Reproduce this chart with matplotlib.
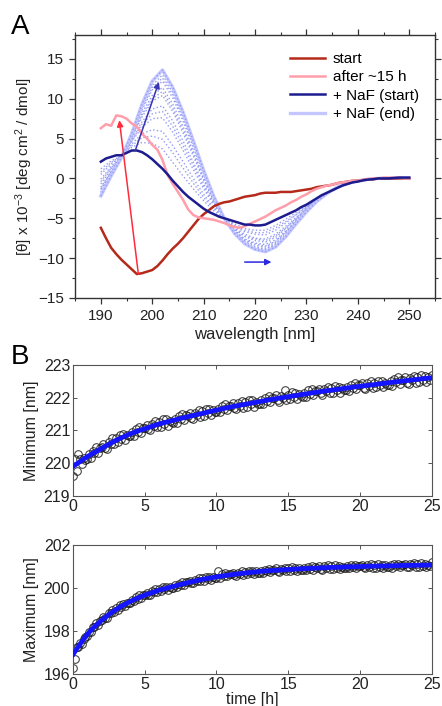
"""CD spectra of the NaF-induced transition (A) and kinetics of band positions (B)."""

import numpy as np
import matplotlib

matplotlib.use("Agg")
import matplotlib.pyplot as plt
from matplotlib.ticker import MultipleLocator

plt.rcParams.update(
    {
        "font.family": "Liberation Sans",
        "mathtext.fontset": "custom",
        "mathtext.rm": "Liberation Sans",
        "mathtext.it": "Liberation Sans:italic",
    }
)

COLORS = {
    "start": "#b52a1b",
    "after": "#ff9eab",
    "naf_start": "#1c1c8f",
    "naf_end": "#c3c6ff",
    "scans": "#949cf2",
    "red_arrow": "#ff2a3a",
    "blue_arrow": "#3a35b0",
    "shift_arrow": "#2a2ae0",
    "fit": "#1414ff",
}

# ---- panel A: spectra, 1 nm steps 190..250 ----
WL = np.arange(190, 251)

START = [
    -6.2, -7.5, -8.7, -9.5, -10.2, -10.8, -11.4, -12.0, -11.9, -11.7,
    -11.5, -11.0, -10.3, -9.5, -8.8, -8.2, -7.5, -6.7, -5.9, -5.1,
    -4.5, -4.0, -3.5, -3.2, -3.0, -2.9, -2.7, -2.5, -2.3, -2.2,
    -2.1, -1.9, -1.8, -1.8, -1.8, -1.7, -1.7, -1.7, -1.6, -1.5,
    -1.4, -1.3, -1.1, -1.0, -0.9, -0.8, -0.6, -0.5, -0.4, -0.3,
    -0.3, -0.2, -0.1, -0.1, 0.0, 0.0, 0.0, 0.0, 0.0, 0.0, 0.0,
]

AFTER_15H = [
    6.3, 6.8, 6.6, 7.9, 7.8, 7.5, 6.9, 6.5, 5.6, 5.0,
    4.2, 3.6, 2.3, 0.4, -0.7, -1.7, -2.7, -3.9, -4.6, -4.9,
    -5.0, -5.1, -5.2, -5.4, -5.6, -5.9, -6.1, -6.2, -6.0, -5.7,
    -5.4, -5.1, -4.8, -4.4, -4.0, -3.7, -3.4, -3.0, -2.7, -2.3,
    -2.0, -1.6, -1.3, -1.1, -0.9, -0.8, -0.6, -0.5, -0.4, -0.3,
    -0.3, -0.2, -0.1, 0.0, 0.0, 0.1, 0.1, 0.1, 0.1, 0.0, 0.0,
]

NAF_START = [
    2.1, 2.5, 2.7, 2.9, 2.9, 3.2, 3.5, 3.5, 3.3, 2.9,
    2.4, 1.8, 1.2, 0.5, -0.3, -1.0, -1.7, -2.3, -2.8, -3.3,
    -3.8, -4.2, -4.5, -4.8, -5.0, -5.2, -5.4, -5.6, -5.8, -5.8,
    -5.9, -5.9, -5.8, -5.5, -5.2, -4.9, -4.6, -4.3, -4.0, -3.6,
    -3.3, -2.9, -2.5, -2.1, -1.8, -1.5, -1.2, -0.9, -0.7, -0.5,
    -0.4, -0.25, -0.15, -0.1, 0.0, 0.0, 0.0, 0.05, 0.1, 0.1, 0.1,
]

# intermediate scans after NaF addition, 2 nm steps 190..250
WL_SCAN = np.arange(190, 251, 2)

NAF_SCANS = [
    [1.2, 2.2, 2.8, 3.9, 4.5, 4.4, 3.7, 2.0, 0.3, -1.3, -2.8, -4.1, -5.0, -5.7, -6.3, -6.5,
     -6.5, -5.9, -5.1, -4.3, -3.5, -2.6, -1.8, -1.2, -0.7, -0.4, -0.1, 0.0, 0.0, 0.1, 0.1],
    [0.8, 2.0, 2.8, 4.1, 5.1, 5.3, 4.9, 3.2, 1.3, -0.6, -2.4, -3.8, -5.0, -5.9, -6.5, -6.8,
     -6.8, -6.2, -5.4, -4.5, -3.6, -2.6, -1.8, -1.2, -0.7, -0.4, -0.1, 0.0, 0.0, 0.1, 0.1],
    [0.5, 1.8, 2.8, 4.3, 5.6, 6.1, 5.9, 4.1, 2.1, 0.0, -2.0, -3.7, -5.0, -6.0, -6.7, -7.0,
     -7.1, -6.5, -5.6, -4.6, -3.6, -2.7, -1.8, -1.2, -0.7, -0.4, -0.1, 0.0, 0.0, 0.1, 0.1],
    [-0.1, 1.5, 2.7, 4.6, 6.4, 7.5, 7.6, 5.8, 3.5, 1.1, -1.3, -3.4, -5.0, -6.2, -7.0, -7.5,
     -7.6, -7.0, -6.0, -4.9, -3.8, -2.7, -1.9, -1.1, -0.6, -0.3, -0.1, 0.0, 0.0, 0.1, 0.1],
    [-0.4, 1.3, 2.7, 4.7, 6.8, 8.1, 8.4, 6.5, 4.1, 1.6, -1.0, -3.2, -5.0, -6.3, -7.2, -7.6,
     -7.8, -7.2, -6.2, -5.0, -3.8, -2.7, -1.9, -1.1, -0.6, -0.3, -0.1, 0.0, 0.0, 0.1, 0.1],
    [-0.7, 1.2, 2.7, 4.8, 7.1, 8.7, 9.1, 7.2, 4.7, 2.0, -0.7, -3.1, -5.0, -6.4, -7.3, -7.8,
     -8.0, -7.4, -6.3, -5.1, -3.9, -2.8, -1.9, -1.1, -0.6, -0.3, -0.1, 0.0, 0.0, 0.1, 0.1],
    [-1.1, 0.9, 2.7, 5.1, 7.7, 9.7, 10.4, 8.4, 5.7, 2.8, -0.2, -2.9, -5.0, -6.5, -7.6, -8.1,
     -8.3, -7.7, -6.6, -5.3, -4.0, -2.8, -1.9, -1.1, -0.6, -0.3, -0.1, 0.0, 0.0, 0.1, 0.1],
    [-1.3, 0.8, 2.7, 5.1, 8.0, 10.0, 10.9, 8.8, 6.1, 3.1, -0.1, -2.8, -5.0, -6.6, -7.7, -8.2,
     -8.5, -7.9, -6.7, -5.3, -4.0, -2.8, -1.9, -1.1, -0.6, -0.3, -0.1, 0.0, 0.0, 0.1, 0.1],
    [-1.4, 0.7, 2.7, 5.2, 8.2, 10.4, 11.4, 9.3, 6.5, 3.4, 0.1, -2.7, -5.0, -6.6, -7.8, -8.4,
     -8.6, -8.0, -6.8, -5.4, -4.0, -2.8, -1.9, -1.1, -0.6, -0.3, -0.1, 0.0, 0.0, 0.1, 0.1],
    [-1.7, 0.6, 2.6, 5.4, 8.6, 11.1, 12.2, 10.1, 7.2, 3.9, 0.5, -2.5, -5.0, -6.7, -7.9, -8.6,
     -8.8, -8.2, -7.0, -5.5, -4.1, -2.9, -1.9, -1.1, -0.6, -0.3, -0.1, 0.0, 0.0, 0.1, 0.1],
    [-1.9, 0.5, 2.6, 5.4, 8.8, 11.4, 12.6, 10.5, 7.5, 4.1, 0.6, -2.5, -5.0, -6.8, -8.0, -8.7,
     -8.9, -8.3, -7.1, -5.6, -4.1, -2.9, -1.9, -1.1, -0.6, -0.3, -0.1, 0.0, 0.0, 0.1, 0.05],
    [-2.0, 0.4, 2.6, 5.5, 9.0, 11.7, 13.0, 10.8, 7.8, 4.3, 0.8, -2.4, -5.0, -6.8, -8.1, -8.8,
     -9.0, -8.4, -7.2, -5.6, -4.2, -2.9, -1.9, -1.1, -0.6, -0.3, -0.1, 0.0, 0.0, 0.05, 0.05],
]

NAF_END = [
    -2.2, 0.3, 2.6, 5.6, 9.3, 12.2, 13.6, 11.4, 8.3, 4.7, 1.0, -2.3, -5.0, -6.9, -8.2, -8.9,
    -9.2, -8.6, -7.3, -5.7, -4.2, -2.9, -1.9, -1.1, -0.6, -0.3, -0.1, 0.0, 0.0, 0.05, 0.05,
]

# ---- panel B: band positions vs time, 7.5 min steps ----
TIME_H = np.arange(0, 25.01, 0.125)

MIN_NM = [
    219.62, 220.12, 219.75, 220.28, 220.13, 219.97, 220.15, 220.11,
    220.13, 220.27, 220.16, 220.38, 220.31, 220.49, 220.31, 220.47,
    220.48, 220.58, 220.45, 220.43, 220.65, 220.60, 220.76, 220.58,
    220.76, 220.64, 220.86, 220.75, 220.88, 220.71, 220.87, 220.83,
    220.83, 220.96, 220.84, 221.05, 220.96, 221.12, 220.93, 221.08,
    221.08, 221.17, 221.03, 221.00, 221.20, 221.13, 221.28, 221.09,
    221.26, 221.12, 221.34, 221.21, 221.34, 221.15, 221.30, 221.25,
    221.24, 221.36, 221.24, 221.44, 221.35, 221.51, 221.31, 221.46,
    221.45, 221.53, 221.39, 221.35, 221.54, 221.47, 221.62, 221.42,
    221.58, 221.44, 221.66, 221.53, 221.65, 221.46, 221.62, 221.56,
    221.55, 221.67, 221.55, 221.75, 221.65, 221.81, 221.62, 221.76,
    221.75, 221.83, 221.68, 221.64, 221.83, 221.76, 221.90, 221.70,
    221.86, 221.72, 221.93, 221.80, 221.92, 221.73, 221.88, 221.82,
    221.81, 221.93, 221.80, 222.00, 221.90, 222.06, 221.86, 222.00,
    221.99, 222.07, 221.92, 221.88, 222.06, 221.99, 222.22, 221.93,
    222.09, 221.95, 222.16, 222.03, 222.14, 221.95, 222.10, 222.04,
    222.03, 222.15, 222.02, 222.22, 222.11, 222.27, 222.07, 222.21,
    222.20, 222.28, 222.13, 222.08, 222.27, 222.20, 222.34, 222.13,
    222.29, 222.15, 222.36, 222.22, 222.34, 222.15, 222.30, 222.23,
    222.22, 222.34, 222.21, 222.40, 222.30, 222.46, 222.26, 222.39,
    222.38, 222.46, 222.30, 222.26, 222.45, 222.37, 222.51, 222.30,
    222.46, 222.32, 222.52, 222.39, 222.51, 222.32, 222.46, 222.40,
    222.39, 222.51, 222.37, 222.57, 222.47, 222.62, 222.42, 222.55,
    222.54, 222.62, 222.46, 222.42, 222.61, 222.53, 222.67, 222.46,
    222.62, 222.48, 222.68, 222.55, 222.67, 222.47, 222.62, 222.55,
    222.70,
]

MAX_NM = [
    196.30, 196.68, 197.24, 197.26, 197.46, 197.41, 197.65, 197.70,
    197.79, 197.97, 197.95, 198.18, 198.18, 198.38, 198.29, 198.47,
    198.52, 198.65, 198.59, 198.61, 198.83, 198.82, 198.99, 198.87,
    199.05, 198.98, 199.19, 199.13, 199.26, 199.15, 199.31, 199.30,
    199.32, 199.45, 199.38, 199.56, 199.51, 199.67, 199.54, 199.68,
    199.69, 199.78, 199.68, 199.67, 199.85, 199.80, 199.94, 199.80,
    199.95, 199.85, 200.04, 199.95, 200.05, 199.91, 200.06, 200.02,
    200.02, 200.13, 200.04, 200.21, 200.15, 200.29, 200.15, 200.27,
    200.27, 200.35, 200.24, 200.22, 200.39, 200.33, 200.46, 200.31,
    200.45, 200.35, 200.52, 200.43, 200.52, 200.38, 200.51, 200.47,
    200.46, 200.78, 200.47, 200.63, 200.55, 200.68, 200.54, 200.65,
    200.64, 200.71, 200.59, 200.56, 200.72, 200.66, 200.78, 200.62,
    200.75, 200.64, 200.81, 200.71, 200.80, 200.64, 200.77, 200.72,
    200.71, 200.81, 200.70, 200.86, 200.78, 200.90, 200.75, 200.85,
    200.84, 200.91, 200.78, 200.75, 200.90, 200.84, 200.95, 200.79,
    200.91, 200.80, 200.96, 200.86, 200.94, 200.79, 200.91, 200.86,
    200.84, 200.93, 200.83, 200.98, 200.90, 201.02, 200.86, 200.97,
    200.95, 201.01, 200.89, 200.85, 201.01, 200.94, 201.05, 200.89,
    201.01, 200.89, 201.05, 200.95, 201.03, 200.87, 201.00, 200.94,
    200.92, 201.01, 200.91, 201.06, 200.97, 201.09, 200.94, 201.04,
    201.02, 201.08, 200.96, 200.92, 201.07, 201.00, 201.12, 200.95,
    201.07, 200.95, 201.11, 201.00, 201.08, 200.92, 201.05, 200.99,
    200.97, 201.06, 200.95, 201.10, 201.02, 201.14, 200.98, 201.09,
    201.07, 201.13, 201.00, 200.96, 201.11, 201.05, 201.16, 200.99,
    201.11, 200.99, 201.15, 201.04, 201.12, 200.96, 201.09, 201.03,
    201.20,
]

FIT_T = [0, 0.5, 1, 1.5, 2, 2.5, 3, 3.5, 4, 4.5, 5, 6, 7, 8, 9, 10,
         11, 12, 13, 14, 15, 16, 17, 18, 19, 20, 21, 22, 23, 24, 25]
FIT_MIN = [219.90, 220.05, 220.20, 220.33, 220.45, 220.58, 220.70, 220.80, 220.90, 220.98,
           221.05, 221.20, 221.31, 221.42, 221.52, 221.62, 221.72, 221.80, 221.88, 221.96,
           222.03, 222.10, 222.17, 222.23, 222.29, 222.35, 222.40, 222.46, 222.51, 222.56, 222.61]
FIT_MAX = [196.90, 197.40, 197.85, 198.20, 198.50, 198.77, 199.00, 199.20, 199.38, 199.53,
           199.67, 199.90, 200.08, 200.25, 200.40, 200.52, 200.62, 200.70, 200.77, 200.82,
           200.86, 200.90, 200.93, 200.96, 200.98, 201.00, 201.02, 201.03, 201.05, 201.06, 201.07]


def arrow(ax, start, end, color):
    ax.annotate(
        "",
        xy=end,
        xytext=start,
        arrowprops=dict(arrowstyle="-|>", color=color, lw=1.1, mutation_scale=9,
                        shrinkA=0, shrinkB=0),
        zorder=6,
    )


def panel_a(fig):
    ax = fig.add_axes([0.170, 0.578, 0.814, 0.3725])

    for scan in NAF_SCANS:
        ax.plot(WL_SCAN, scan, ls=":", lw=1.0, color=COLORS["scans"], zorder=2)
    ax.plot(WL_SCAN, NAF_END, color=COLORS["naf_end"], lw=2.4, zorder=2, label="+ NaF (end)")
    ax.plot(WL_SCAN, NAF_END, ls=":", lw=1.0, color=COLORS["scans"], zorder=2)

    ax.plot(WL, START, color=COLORS["start"], lw=1.8, zorder=3, label="start")
    ax.plot(WL, AFTER_15H, color=COLORS["after"], lw=1.8, zorder=3, label="after ~15 h")
    ax.plot(WL, NAF_START, color=COLORS["naf_start"], lw=1.8, zorder=4, label="+ NaF (start)")

    arrow(ax, (197.3, -12.0), (193.6, 7.3), COLORS["red_arrow"])
    arrow(ax, (196.7, 3.5), (201.3, 12.1), COLORS["blue_arrow"])
    arrow(ax, (218.0, -10.5), (223.2, -10.5), COLORS["shift_arrow"])

    ax.set_xlim(185, 255)
    ax.set_ylim(-15, 18)
    ax.xaxis.set_major_locator(MultipleLocator(10))
    ax.xaxis.set_minor_locator(MultipleLocator(5))
    ax.yaxis.set_major_locator(MultipleLocator(5))
    ax.yaxis.set_minor_locator(MultipleLocator(2.5))
    ax.tick_params(which="both", direction="out", top=True, right=True, colors="#333333",
                   labelsize=11, labelcolor="#222222")
    ax.tick_params(which="major", length=4.5, width=0.9)
    ax.tick_params(which="minor", length=2.5, width=0.8)
    for spine in ax.spines.values():
        spine.set_color("#333333")
        spine.set_linewidth(1.0)

    ax.set_xlabel("wavelength [nm]", fontsize=12, color="#222222", labelpad=3)
    ax.set_ylabel(r"[θ] x 10$^{-3}$ [deg cm$^{2}$ / dmol]", fontsize=11, color="#222222",
                  labelpad=2)

    handles, labels = ax.get_legend_handles_labels()
    order = [1, 2, 3, 0]
    ax.legend([handles[i] for i in order], [labels[i] for i in order],
              loc="upper left", bbox_to_anchor=(0.597, 0.935), frameon=False,
              fontsize=11, handlelength=2.3, handletextpad=0.5, labelspacing=0.28,
              borderpad=0, borderaxespad=0)


def kinetics(ax, values, fit_values, ylim, yticks, ylabel):
    ax.plot(TIME_H, values, ls="none", marker="o", ms=5.5, mfc="none", mec="#1a1a1a",
            mew=0.75, alpha=0.85, zorder=2)
    ax.plot(FIT_T, fit_values, color=COLORS["fit"], lw=3.4, zorder=3)
    ax.set_xlim(0, 25)
    ax.set_ylim(*ylim)
    ax.set_xticks([0, 5, 10, 15, 20, 25])
    ax.set_yticks(yticks)
    ax.tick_params(direction="in", top=True, right=True, length=3, width=0.7,
                   colors="#555555", labelsize=11.5, labelcolor="#222222", pad=2)
    for spine in ax.spines.values():
        spine.set_color("#555555")
        spine.set_linewidth(0.8)
    ax.set_ylabel(ylabel, fontsize=11.5, color="#222222", labelpad=3)


def main():
    fig = plt.figure(figsize=(4.42, 7.06), dpi=100, facecolor="white")

    panel_a(fig)

    ax_min = fig.add_axes([0.165, 0.2975, 0.812, 0.1856])
    kinetics(ax_min, MIN_NM, FIT_MIN, (219, 223), [219, 220, 221, 222, 223], "Minimum [nm]")

    ax_max = fig.add_axes([0.165, 0.0453, 0.812, 0.1827])
    kinetics(ax_max, MAX_NM, FIT_MAX, (196, 202), [196, 198, 200, 202], "Maximum [nm]")
    ax_max.set_xlabel("time [h]", fontsize=11.5, color="#222222", labelpad=0)

    fig.text(0.045, 0.962, "A", fontsize=20, ha="center", va="center")
    fig.text(0.045, 0.494, "B", fontsize=20, ha="center", va="center")

    fig.savefig("out.png", dpi=100, facecolor="white")


if __name__ == "__main__":
    main()
